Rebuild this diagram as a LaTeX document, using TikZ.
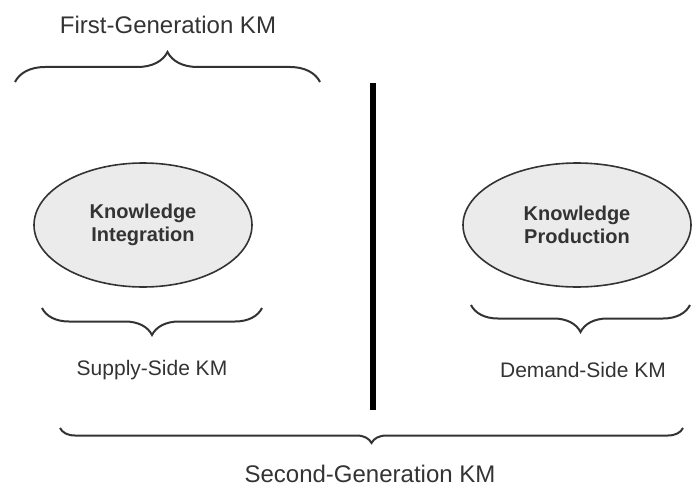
\documentclass[tikz,border=0pt]{standalone}
\usepackage{fontspec}
\setmainfont{Liberation Sans}
\usepackage{xcolor}
\usetikzlibrary{shapes.geometric, decorations.pathreplacing, positioning}
\definecolor{kmdark}{HTML}{333333}
\definecolor{kmfill}{HTML}{EBEBEB}
\tikzset{
  %% Grey ellipse with bold text
  kmell/.style={
    ellipse, draw=kmdark, fill=kmfill,
    minimum height=124pt, inner sep=0pt,
    align=center, text=kmdark,
    font=\fontsize{20}{23}\selectfont\bfseries,
    line width=1.6pt
  },
  %% Curly brace
  kmbrace/.style={decorate, decoration={brace, amplitude=#1},
                  draw=kmdark, line width=2pt},
  kmbrace/.default=27pt,
  %% Plain label
  kmtext/.style={text=kmdark, inner sep=0pt,
                 font=\fontsize{21}{24}\selectfont},
}

\begin{document}
\begin{tikzpicture}[x=1pt, y=-1pt]
  \useasboundingbox (0,0) rectangle (693,487);

  %% ---- First-Generation (top) ----
  \node[kmtext, font=\fontsize{24}{28}\selectfont] (fgen) at (168,25)
       {First-Generation KM};
  \coordinate (fgl) at (15,82);
  \coordinate (fgr) at (320,82);
  \draw[kmbrace=30pt] (fgl) -- (fgr);

  %% Divider
  \coordinate (dtop) at (373,83);
  \coordinate (dbot) at (373,410);
  \draw[line width=6pt] (dtop) -- (dbot);

  %% ---- Ellipses ----
  \node[kmell, minimum width=218pt] (integ) at (143,225)
       {Knowledge\\Integration};
  \node[kmell, minimum width=228pt] (prod) at (577,225)
       {Knowledge\\Production};

  %% ---- Supply / Demand braces ----
  \coordinate (sl) at (42,308);
  \coordinate (sr) at (262,308);
  \coordinate (dl) at (471,305);
  \coordinate (dr) at (690,305);
  \foreach \a/\b in {sr/sl, dr/dl}
    \draw[kmbrace] (\a) -- (\b);

  \node[kmtext] (supply) at (152,370) {Supply-Side KM};
  \node[kmtext] (demand) at (583,370) {Demand-Side KM};

  %% ---- Second-Generation (bottom) ----
  \coordinate (sgl) at (60,428);
  \coordinate (sgr) at (683,428);
  \draw[kmbrace=15pt] (sgr) -- (sgl);
  \node[kmtext, font=\fontsize{24}{28}\selectfont] (sgen) at (370,474)
       {Second-Generation KM};

\end{tikzpicture}
\end{document}
